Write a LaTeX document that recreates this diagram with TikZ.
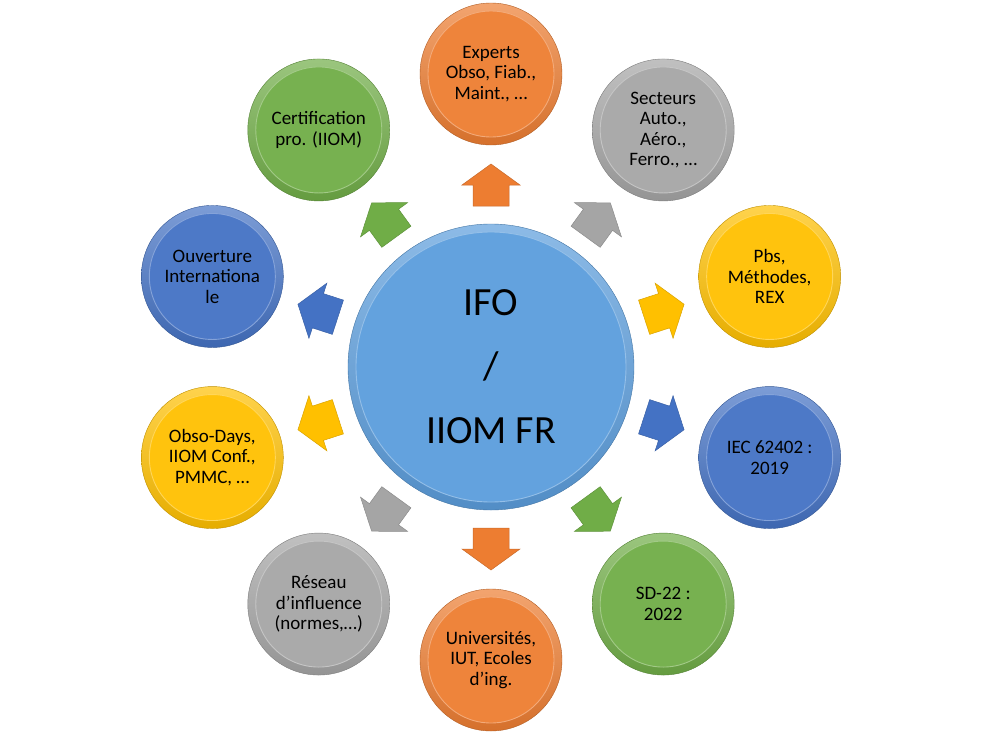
\documentclass[tikz,border=0pt]{standalone}
\usepackage{fontspec}
\setmainfont{Carlito}
\usepackage{xcolor}
\usetikzlibrary{calc}
\definecolor{ifo-orange}{RGB}{237, 125, 49}
\definecolor{ifo-gray}{RGB}{165, 165, 165}
\definecolor{ifo-gold}{RGB}{255, 192, 0}
\definecolor{ifo-blue}{RGB}{68, 114, 196}
\definecolor{ifo-green}{RGB}{112, 173, 71}
\definecolor{ifo-sky}{RGB}{91, 157, 220}
\newcommand{\bubblefont}{\fontsize{19}{20.5}\selectfont}
\newcommand{\hubfont}{\fontsize{40}{64}\selectfont}
\tikzset{
  bubble/.style 2 args={circle, inner sep=0pt, align=center, draw=#1!75!black, line width=0.4pt,
    top color=#1!70!white, bottom color=#1!90!black,
    path picture={\fill[#1!95!white, draw=#1!65!white, line width=0.9pt] (path picture bounding box.center) circle (#2);}},
  petal/.style={bubble={#1}{63}, minimum size=142pt, font=\bubblefont},
  hub/.style={bubble={#1}{135}, minimum size=286pt, font=\hubfont},
  blockarrow/.style={fill=#1, draw=#1!85!black, line width=0.5pt, line join=miter}
}

\begin{document}
\begin{tikzpicture}[x=1pt, y=1pt]
\useasboundingbox (-491,-365) rectangle (491,367);
% arrows
\filldraw[blockarrow=ifo-orange, rotate=0] (-18,161) -- (18,161) -- (18,182) -- (29,182) -- (0,203) -- (-29,182) -- (-18,182) -- cycle;
\filldraw[blockarrow=ifo-gray, rotate=-36] (-18,161) -- (18,161) -- (18,182) -- (29,182) -- (0,203) -- (-29,182) -- (-18,182) -- cycle;
\filldraw[blockarrow=ifo-gold, rotate=-72] (-18,161) -- (18,161) -- (18,182) -- (29,182) -- (0,203) -- (-29,182) -- (-18,182) -- cycle;
\filldraw[blockarrow=ifo-blue, rotate=-108] (-18,161) -- (18,161) -- (18,182) -- (29,182) -- (0,203) -- (-29,182) -- (-18,182) -- cycle;
\filldraw[blockarrow=ifo-green, rotate=-144] (-18,161) -- (18,161) -- (18,182) -- (29,182) -- (0,203) -- (-29,182) -- (-18,182) -- cycle;
\filldraw[blockarrow=ifo-orange, rotate=180] (-18,161) -- (18,161) -- (18,182) -- (29,182) -- (0,203) -- (-29,182) -- (-18,182) -- cycle;
\filldraw[blockarrow=ifo-gray, rotate=144] (-18,161) -- (18,161) -- (18,182) -- (29,182) -- (0,203) -- (-29,182) -- (-18,182) -- cycle;
\filldraw[blockarrow=ifo-gold, rotate=108] (-18,161) -- (18,161) -- (18,182) -- (29,182) -- (0,203) -- (-29,182) -- (-18,182) -- cycle;
\filldraw[blockarrow=ifo-blue, rotate=72] (-18,161) -- (18,161) -- (18,182) -- (29,182) -- (0,203) -- (-29,182) -- (-18,182) -- cycle;
\filldraw[blockarrow=ifo-green, rotate=36] (-18,161) -- (18,161) -- (18,182) -- (29,182) -- (0,203) -- (-29,182) -- (-18,182) -- cycle;
% centre
\node[hub=ifo-sky] (ifo) at (0,0) {IFO\\/\\IIOM FR};
% outer circles
\node[petal=ifo-orange] (experts) at (90:293) {Experts\\Obso, Fiab.,\\Maint., …};
\node[petal=ifo-gray] (secteurs) at (54:293) {Secteurs\\Auto.,\\Aéro.,\\Ferro., …};
\node[petal=ifo-gold] (pbs) at (18:293) {Pbs,\\Méthodes,\\REX};
\node[petal=ifo-blue] (iec) at (-18:293) {IEC 62402 :\\2019};
\node[petal=ifo-green] (sd) at (-54:293) {SD-22 :\\2022};
\node[petal=ifo-orange] (univ) at (-90:293) {Universités,\\IUT, Ecoles\\d’ing.};
\node[petal=ifo-gray] (reseau) at (-126:293) {Réseau\\d’influence\\(normes,…)};
\node[petal=ifo-gold] (days) at (-162:293) {Obso-Days,\\IIOM Conf.,\\PMMC, …};
\node[petal=ifo-blue] (ouverture) at (162:293) {Ouverture\\Internationa\\le};
\node[petal=ifo-green] (certif) at (126:293) {Certification\\pro. (IIOM)};
\end{tikzpicture}
\end{document}
